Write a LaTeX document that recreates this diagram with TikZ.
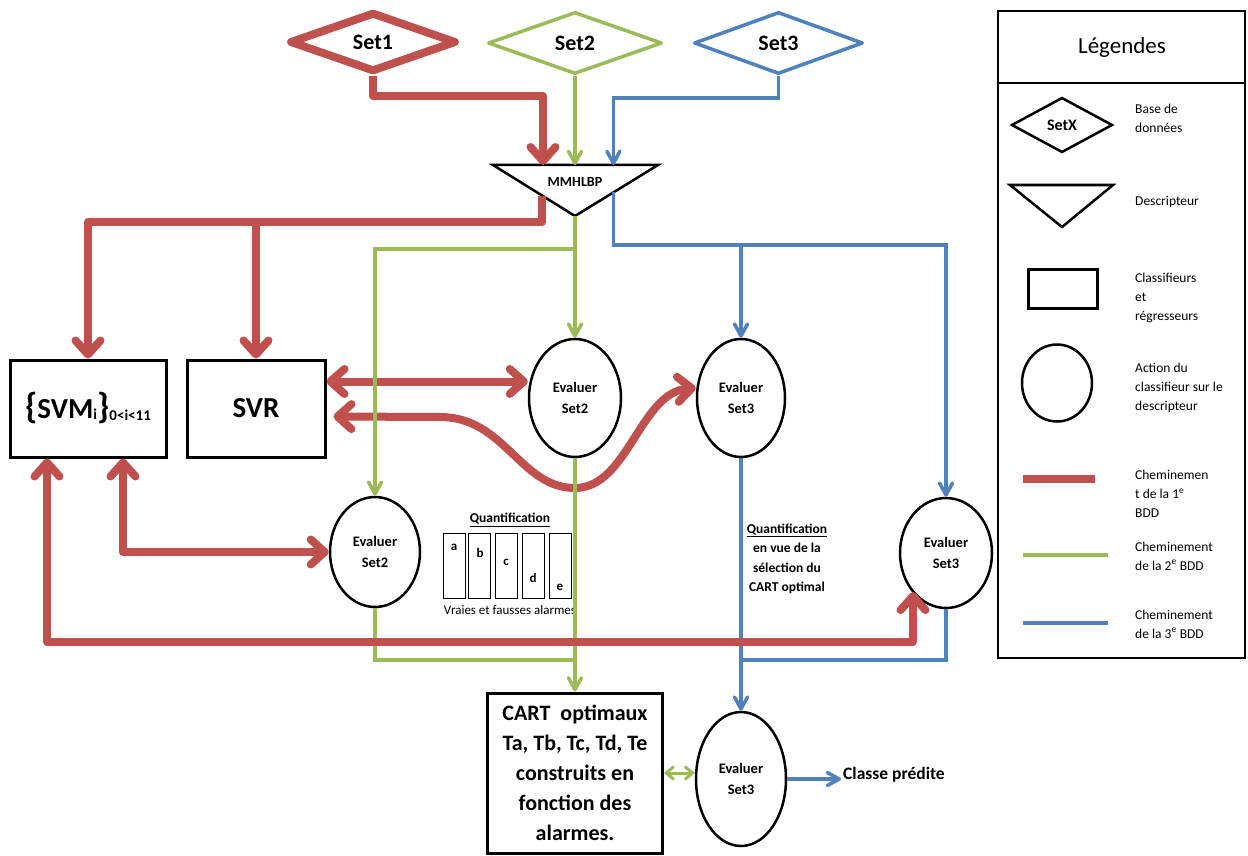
\documentclass[tikz,border=0pt]{standalone}
\usepackage{fontspec}
\setmainfont{Carlito}
\usetikzlibrary{arrows.meta,shapes.geometric,calc}
\definecolor{cRed}{HTML}{C0504D}
\definecolor{cGreen}{HTML}{9BBB59}
\definecolor{cBlue}{HTML}{4F81BD}

\begin{document}
\begin{tikzpicture}[x=1pt,y=-1pt,
  redflow/.style={draw=cRed,line width=8pt,line join=round,
    >={Straight Barb[length=14pt,width=25pt,line cap=round,line join=round]}},
  greenflow/.style={draw=cGreen,line width=3.5pt,
    >={Straight Barb[length=12pt,width=13pt,line cap=round,line join=round]}},
  blueflow/.style={draw=cBlue,line width=3.5pt,
    >={Straight Barb[length=12pt,width=13pt,line cap=round,line join=round]}},
  dbase/.style={diamond,draw,line width=3.5pt,line join=round,inner sep=0pt,
    font=\bfseries\fontsize{22}{22}\selectfont},
  evalnode/.style={ellipse,draw,line width=2.5pt,fill=white,align=center,inner sep=0pt,
    font=\bfseries\fontsize{14.5}{21}\selectfont},
  boxnode/.style={rectangle,draw,line width=3pt,fill=white,align=center},
  barbox/.style={rectangle,draw,line width=1pt,minimum width=22pt,minimum height=65pt,inner sep=0pt},
  barlabel/.style={font=\bfseries\fontsize{13}{13}\selectfont,inner sep=0pt},
  legtext/.style={anchor=west,align=left,inner sep=2pt,font=\fontsize{13.5}{19}\selectfont},
]
\useasboundingbox[fill=white] (0,0) rectangle (1248,856);

% ---------- databases ----------
\node[dbase,draw=cRed,line width=8pt,minimum width=167pt,minimum height=60pt] (set1) at (373,42) {Set1};
\node[dbase,draw=cGreen,minimum width=174pt,minimum height=62pt] (set2) at (575,43) {Set2};
\node[dbase,draw=cBlue,minimum width=169pt,minimum height=62pt] (set3) at (778.5,43) {Set3};

% ---------- descriptor ----------
\coordinate (tl) at (493,165);
\coordinate (tr) at (658,165);
\coordinate (tb) at (575,216);
\draw[line width=2.5pt,fill=white] (tl) -- (tr) -- (tb) -- cycle;
\node[font=\bfseries\fontsize{14}{14}\selectfont] (mmhlbp) at (575,182) {MMHLBP};

% ---------- classifiers ----------
\node[boxnode,minimum width=156pt,minimum height=97pt,inner sep=0pt] (svm) at (88,408.5)
  {\bfseries{\fontsize{36}{36}\selectfont\{}{\fontsize{29}{29}\selectfont SVM}{\fontsize{15}{15}\selectfont\raisebox{-1pt}{i}}{\fontsize{36}{36}\selectfont\}}{\fontsize{15}{15}\selectfont\raisebox{-2pt}{0<i<11}}};
\node[boxnode,minimum width=138pt,minimum height=97pt,font=\bfseries\fontsize{29}{29}\selectfont] (svr) at (256,408.5) {SVR};
\node[boxnode,minimum width=175pt,minimum height=160pt,inner sep=0pt,
  font=\bfseries\fontsize{22}{30}\selectfont] (cart) at (575,773)
  {CART~~optimaux\\Ta, Tb, Tc, Td, Te\\construits en\\fonction des\\alarmes.};

% ---------- evaluation steps ----------
\node[evalnode,minimum width=92pt,minimum height=118pt] (es2u) at (575,398) {Evaluer\\Set2};
\node[evalnode,minimum width=88pt,minimum height=118pt] (es3u) at (741,398) {Evaluer\\Set3};
\node[evalnode,minimum width=90pt,minimum height=110pt] (es2l) at (375,552) {Evaluer\\Set2};
\node[evalnode,minimum width=92pt,minimum height=110pt] (es3r) at (946,553) {Evaluer\\Set3};
\node[evalnode,minimum width=90pt,minimum height=134pt] (es3b) at (741,779) {Evaluer\\Set3};

\node[anchor=west,inner sep=2pt,font=\bfseries\fontsize{17.5}{17.5}\selectfont] (classe) at (841,775) {Classe prédite};

% ---------- quantification (alarms) ----------
\node[font=\bfseries\fontsize{13.5}{13.5}\selectfont] (q1title) at (510,520) {\underline{Quantification}};
\node[barbox] (bara) at (454.5,565.5) {};
\node[barbox] (barb) at (479.5,565.5) {};
\node[barbox] (barc) at (506,565.5) {};
\node[barbox] (bard) at (533.5,565.5) {};
\node[barbox] (bare) at (560,565.5) {};
\node[barlabel] (lbla) at (454,547) {a};
\node[barlabel] (lblb) at (480,553) {b};
\node[barlabel] (lblc) at (506,562) {c};
\node[barlabel] (lbld) at (533,578) {d};
\node[barlabel] (lble) at (560,587) {e};
\node[font=\fontsize{13}{13}\selectfont] (q1note) at (510,610) {Vraies et fausses alarmes};

\node[align=center,font=\bfseries\fontsize{13.5}{19.5}\selectfont] (q2note) at (787,559)
  {\underline{Quantification}\\en vue de la\\sélection du\\CART optimal};

% ---------- first database path (upper part) ----------
\coordinate (rTop) at (543,96);
\draw[redflow,->] (set1.south) |- (rTop) -- (rTop |- tl);
\coordinate (tRed) at ($(tl)!0.6!(tb)$);
\coordinate (rbus) at (300,222);
\draw[redflow,->] (tRed) |- (rbus) -| (svm.north);
\draw[redflow,->] (svr.north |- rbus) -- (svr.north);
\draw[redflow,<->] ([yshift=27pt]svr.east) -- ([yshift=27pt]svr.east -| es2u.west);
\draw[redflow,<->] ([xshift=7pt,yshift=-8pt]svr.east) -- (440,417)
  .. controls (505,417) and (520,488) .. (575,488)
  .. controls (628,488) and (640,392) .. ([yshift=10pt]es3u.west);

% ---------- second database path ----------
\draw[greenflow,->] (set2.south) -- (set2.south |- tl);
\draw[greenflow,->] (tb) -- (es2u.north);
\coordinate (gbus) at (375,249);
\draw[greenflow,->] (tb |- gbus) -| (es2l.north);
\draw[greenflow,->] (es2u.south) -- (cart.north);
\coordinate (gjoin) at (575,660);
\draw[greenflow] (es2l.south) |- (gjoin);
\draw[greenflow,<->,line width=3pt,>={Straight Barb[length=7pt,width=12pt,line cap=round]}]
  (cart.east) -- (cart.east -| es3b.west);

% ---------- third database path ----------
\coordinate (bTop) at (613.4,98);
\draw[blueflow,->] (set3.south) |- (bTop) -- (bTop |- tl);
\coordinate (tBlue) at ($(tr)!0.537!(tb)$);
\coordinate (bbus) at (946,245);
\draw[blueflow,->] (tBlue) |- (bbus) -- (es3r.north);
\draw[blueflow,->] (es3u.north |- bbus) -- (es3u.north);
\draw[blueflow,->] (es3u.south) -- (es3b.north);
\coordinate (bjoin) at (741,660);
\draw[blueflow] (es3r.south) |- (bjoin);
\draw[blueflow,->] (es3b.east) -- (es3b.east -| classe.west);

% ---------- first database path (lower part) ----------
\coordinate (rbot) at (913,642);
\draw[redflow,<->] ([xshift=-41pt]svm.south) |- (rbot) -- (rbot |- es3r.229);
\draw[redflow,<->] ([xshift=35pt]svm.south) |- (es2l.west);

% ---------- legend ----------
\draw[line width=2.5pt] (998,11) rectangle (1245,658);
\draw[line width=2.5pt] (998,83) -- (1245,83);
\node[font=\fontsize{23}{23}\selectfont] (legtitle) at (1122,47) {Légendes};

\node[diamond,draw,line width=2.5pt,inner sep=0pt,minimum width=101pt,minimum height=55pt,
  font=\bfseries\fontsize{16}{16}\selectfont] (legset) at (1062,125) {SetX};
\node[legtext] (legsettxt) at (1133,118) {Base de\\données};

\coordinate (ltl) at (1010,185);
\coordinate (ltr) at (1113,185);
\coordinate (ltb) at (1062,227);
\draw[line width=2.5pt] (ltl) -- (ltr) -- (ltb) -- cycle;
\node[legtext] (legdesc) at (1133,202) {Descripteur};

\node[rectangle,draw,line width=3pt,minimum width=69pt,minimum height=39pt] (legbox) at (1062.5,288.5) {};
\node[legtext] (legboxtxt) at (1133,298) {Classifieurs\\et\\régresseurs};

\node[ellipse,draw,line width=2.5pt,minimum width=70pt,minimum height=77pt] (legcirc) at (1057,383) {};
\node[legtext] (legcirctxt) at (1133,388) {Action du\\classifieur sur le\\descripteur};

\draw[cRed,line width=8pt] (1023,479) -- (1095,479);
\node[legtext] (legred) at (1133,494) {Cheminemen\\t de la 1\textsuperscript{e}\\BDD};
\draw[cGreen,line width=3.5pt] (1023,555) -- (1108,555);
\node[legtext] (leggreen) at (1133,556) {Cheminement\\de la 2\textsuperscript{e} BDD};
\draw[cBlue,line width=3.5pt] (1023,623) -- (1108,623);
\node[legtext] (legblue) at (1133,624) {Cheminement\\de la 3\textsuperscript{e} BDD};
\end{tikzpicture}
\end{document}
